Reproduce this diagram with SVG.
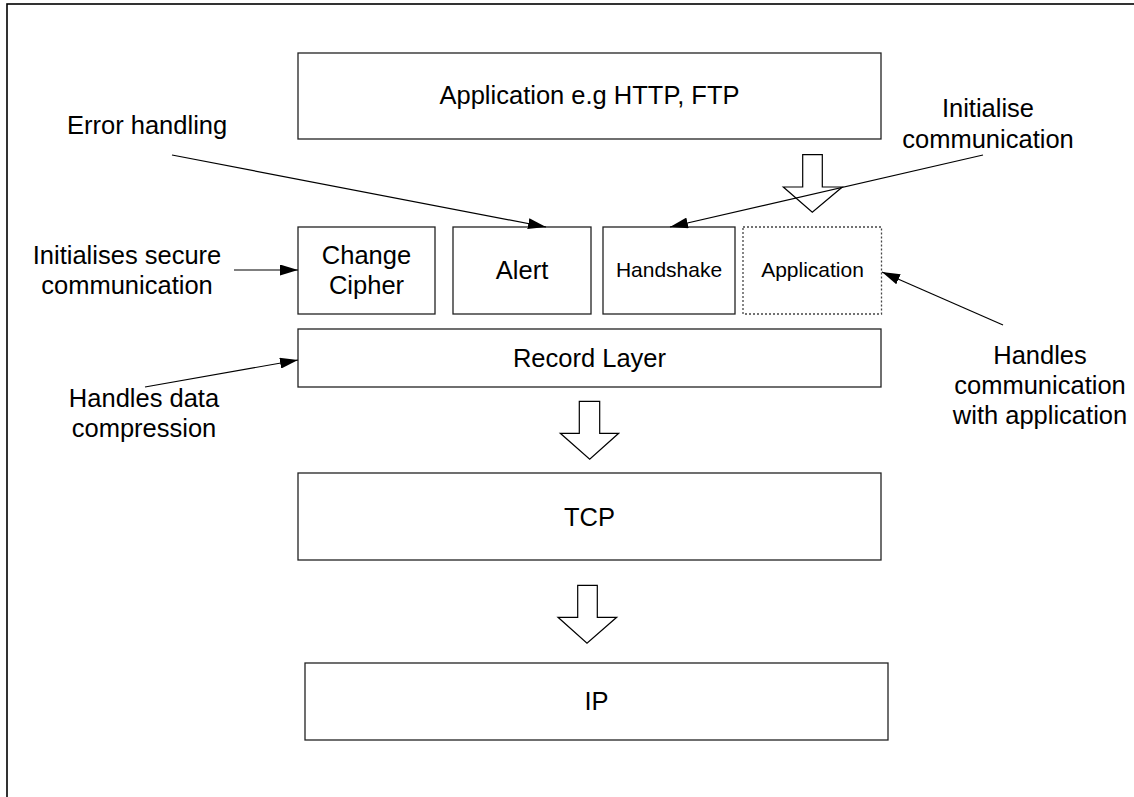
<svg xmlns="http://www.w3.org/2000/svg" width="1134" height="797" viewBox="0 0 1134 797">
<style>
.box{fill:#fff;stroke:#222;stroke-width:1.3}
.dot{fill:#fff;stroke:#444;stroke-width:1.3;stroke-dasharray:2,2}
.t{font-family:"Liberation Sans",Arial,sans-serif;font-size:25.5px;fill:#000;text-anchor:middle}
.s{font-size:21px}
.l{text-anchor:start}
.ln{stroke:#000;stroke-width:1.2;fill:none;marker-end:url(#ah)}
.fat{fill:#fff;stroke:#000;stroke-width:1.2}
</style>
<defs>
<marker id="ah" markerUnits="userSpaceOnUse" markerWidth="18" markerHeight="11" refX="18" refY="5.5" orient="auto">
<path d="M0,0 L18,5.5 L0,11 z" fill="#000"/>
</marker>
</defs>
<rect x="0" y="0" width="1134" height="797" fill="#fff"/>
<rect id="frame" x="7" y="4" width="1140" height="810" fill="none" stroke="#000" stroke-width="1.6"/>

<g id="app-top"><rect class="box" x="298" y="53" width="583" height="86"/><text class="t" x="589.5" y="104">Application e.g HTTP, FTP</text></g>
<g id="change-cipher"><rect class="box" x="298" y="227" width="137" height="87"/><text class="t" x="366.5" y="264">Change</text><text class="t" x="366.5" y="294">Cipher</text></g>
<g id="alert"><rect class="box" x="453" y="227" width="138" height="87"/><text class="t" x="522" y="279">Alert</text></g>
<g id="handshake"><rect class="box" x="603" y="227" width="132" height="87"/><text class="t s" x="669" y="277">Handshake</text></g>
<g id="application"><rect class="dot" x="743" y="227" width="138.5" height="87"/><text class="t s" x="812.5" y="277">Application</text></g>
<g id="record-layer"><rect class="box" x="298" y="329" width="583" height="58"/><text class="t" x="589.5" y="367">Record Layer</text></g>
<g id="tcp"><rect class="box" x="298" y="473" width="583" height="87"/><text class="t" x="589.5" y="526">TCP</text></g>
<g id="ip"><rect class="box" x="305" y="663" width="583" height="77"/><text class="t" x="596.5" y="710">IP</text></g>

<g id="label-error"><text class="t l" x="67" y="134">Error handling</text></g>
<g id="label-init"><text class="t" x="988" y="117">Initialise</text><text class="t" x="988" y="148">communication</text></g>
<g id="label-secure"><text class="t" x="127" y="264">Initialises secure</text><text class="t" x="127" y="294">communication</text></g>
<g id="label-compress"><text class="t" x="144" y="407">Handles data</text><text class="t" x="144" y="437">compression</text></g>
<g id="label-handles"><text class="t" x="1040" y="364">Handles</text><text class="t" x="1040" y="394">communication</text><text class="t" x="1040" y="424">with application</text></g>

<g id="connectors">
<path class="fat" d="M802.7,154.7 H822.3 V187 H842.3 L812.3,212.3 L783.3,187 H802.7 Z"/>
<path class="fat" d="M579.3,401.3 H599.7 V433.3 H618.7 L589.7,459.3 L560.3,433.3 H579.3 Z"/>
<path class="fat" d="M577.7,585.3 H597.3 V617.3 H616.7 L587,643.3 L558,617.3 H577.7 Z"/>
<line class="ln" x1="172" y1="155" x2="546" y2="227"/>
<line class="ln" x1="983" y1="155" x2="670" y2="227"/>
<line class="ln" x1="234" y1="270" x2="298" y2="270"/>
<line class="ln" x1="145" y1="387" x2="298" y2="360"/>
<line class="ln" x1="1003" y1="325" x2="882" y2="272"/>
</g>
</svg>
